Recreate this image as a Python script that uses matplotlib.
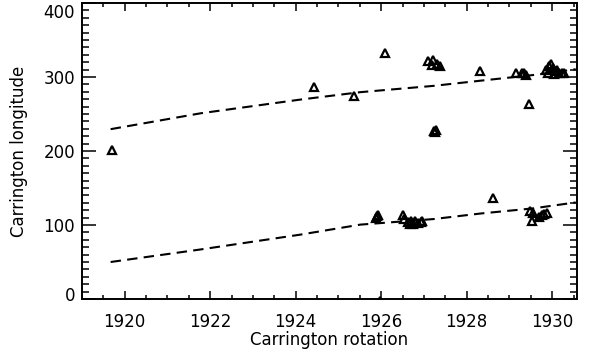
import matplotlib
matplotlib.use('Agg')
import matplotlib.pyplot as plt
import matplotlib.transforms as mtransforms
from matplotlib.ticker import MultipleLocator

# active longitudes: upper branch
rot_up = [1919.70, 1924.42, 1925.36, 1926.10,
          1927.10, 1927.22, 1927.18, 1927.30, 1927.38,
          1927.24, 1927.28, 1927.26,
          1928.32,
          1929.15, 1929.30, 1929.38, 1929.33,
          1929.45,
          1929.85, 1929.92, 1929.98, 1930.02, 1930.08, 1930.15,
          1930.22, 1929.90, 1930.05, 1930.12, 1930.28]
lon_up = [201, 287, 275, 333,
          322, 323, 316, 318, 315,
          227, 229, 226,
          308,
          306, 305, 303, 306,
          264,
          310, 315, 318, 312, 308, 306,
          305, 306, 304, 310, 305]

# lower branch
rot_lo = [1925.88, 1925.92, 1925.90,
          1926.50, 1926.54,
          1926.62, 1926.70, 1926.75, 1926.80, 1926.86, 1926.92, 1926.68, 1926.96,
          1928.61,
          1929.49, 1929.56, 1929.53, 1929.80, 1929.76, 1929.88, 1929.70,
          1925.98]
lon_lo = [110, 114, 112,
          113, 108,
          104, 106, 102, 105, 103, 104, 101, 106,
          136,
          119, 116, 106, 115, 113, 116, 111,
          -3]

# fitted migration curves (dashed)
fit_rot = [1919.67, 1921.78, 1924.11, 1925.51, 1927.22, 1928.32, 1929.56, 1930.55]
fit_up = [229.5, 251.0, 269.5, 279.5, 288.0, 295.0, 302.7, 310.5]
fit_lo = [50.0, 67.0, 87.0, 100.5, 108.0, 115.5, 122.5, 130.5]

fig = plt.figure(figsize=(5.94, 3.56), dpi=100)
ax = fig.add_axes([82/594, 1-299/356, 495/594, 296/356])

for fy in (fit_up, fit_lo):
    ax.plot(fit_rot, fy, color='k', lw=1.5, dashes=[5, 3])

ax.plot(rot_up, lon_up, ls='none', marker='^', ms=6, mfc='none', mec='k', mew=1.6)
ax.plot(rot_lo, lon_lo, ls='none', marker='^', ms=6, mfc='none', mec='k', mew=1.6)

ax.set_xlim(1919.0, 1930.58)
ax.set_ylim(0, 400)
ax.xaxis.set_major_locator(MultipleLocator(2))
ax.xaxis.set_minor_locator(MultipleLocator(0.5))
ax.yaxis.set_major_locator(MultipleLocator(100))
ax.yaxis.set_minor_locator(MultipleLocator(10))
ax.tick_params(which='both', direction='in', top=True, right=True, width=1.1,
               labelsize=12)
ax.tick_params(axis='x', which='major', length=6, pad=10)
ax.tick_params(axis='x', which='minor', length=3)
ax.tick_params(axis='y', which='major', length=10, pad=5)
ax.tick_params(axis='y', which='minor', length=5)
for s in ax.spines.values():
    s.set_linewidth(1.4)

# nudge the end labels inside the frame like the original
fig.canvas.draw()
for tick in ax.yaxis.get_major_ticks():
    lab = tick.label1
    if lab.get_text() == '400':
        lab.set_transform(lab.get_transform() + mtransforms.ScaledTranslation(0, -8/100, fig.dpi_scale_trans))
    elif lab.get_text() == '0':
        lab.set_transform(lab.get_transform() + mtransforms.ScaledTranslation(0, 5/100, fig.dpi_scale_trans))

ax.set_xlabel('Carrington rotation', fontsize=12, labelpad=0)
ax.set_ylabel('Carrington longitude', fontsize=12, labelpad=11)

fig.savefig('out.png', dpi=100)
